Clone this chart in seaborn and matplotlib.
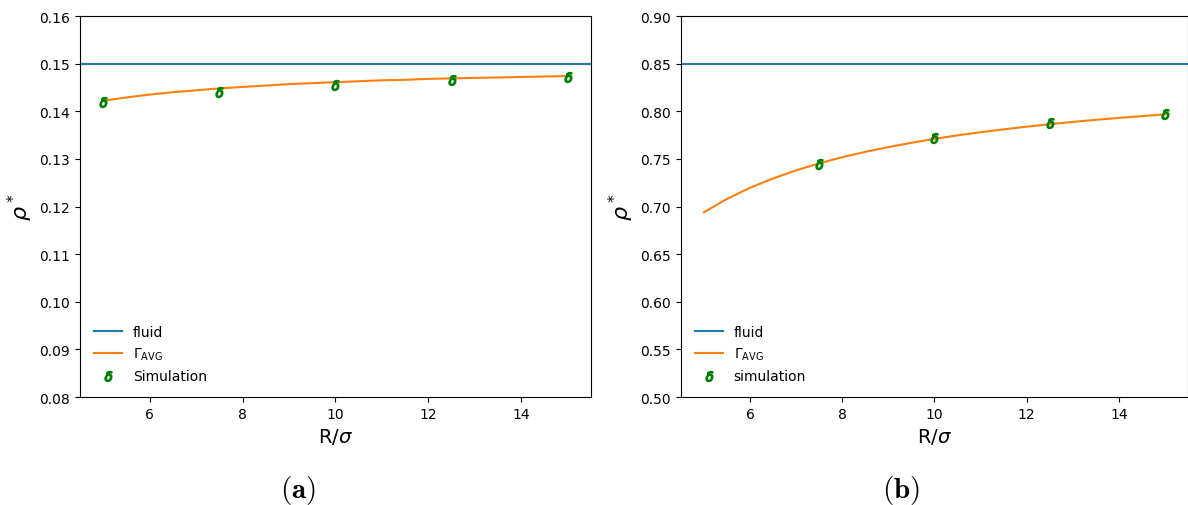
import numpy as np
import pandas as pd
import matplotlib
matplotlib.use("Agg")
import matplotlib.pyplot as plt
import seaborn as sns

# Radius values (R/sigma) for the theory curve and the simulation runs
r_curve = [5.0, 5.5, 6.0, 6.5, 7.0, 7.5, 8.0, 8.5, 9.0, 9.5, 10.0,
           10.5, 11.0, 11.5, 12.0, 12.5, 13.0, 13.5, 14.0, 14.5, 15.0]

# Panel (a): low density
fluid_a = 0.15
gamma_a = [0.1422, 0.1429, 0.1435, 0.1440, 0.1444, 0.1448, 0.1451, 0.1454,
           0.1457, 0.1459, 0.1461, 0.1463, 0.1465, 0.1466, 0.1468, 0.1469,
           0.1470, 0.1471, 0.1472, 0.1473, 0.1474]
sim_r_a = [5.0, 7.5, 10.0, 12.5, 15.0]
sim_a = [0.1419, 0.1440, 0.1456, 0.1466, 0.1472]

# Panel (b): high density
fluid_b = 0.85
gamma_b = [0.694, 0.708, 0.7197, 0.7295, 0.738, 0.7453, 0.7518, 0.7574,
           0.7624, 0.7669, 0.771, 0.7747, 0.778, 0.781, 0.7838, 0.7864,
           0.7888, 0.791, 0.793, 0.7949, 0.7967]
sim_r_b = [7.5, 10.0, 12.5, 15.0]
sim_b = [0.7447, 0.7720, 0.7877, 0.7975]

plt.rcParams["font.family"] = ["DejaVu Sans"]

fig = plt.figure(figsize=(11.88, 5.06), dpi=100)
ax_a = fig.add_axes([0.0673, 0.2134, 0.4302, 0.7530])
ax_b = fig.add_axes([0.5732, 0.2134, 0.4268, 0.7530])


def draw_panel(ax, fluid, gamma, sim_r, sim, sim_label, ylim, yticks, yfmt):
    ax.axhline(fluid, color="#1f77b4", lw=1.5, label="fluid")
    sns.lineplot(x=r_curve, y=gamma, ax=ax, color="#ff7f0e", lw=1.5,
                 label=r"$\Gamma_{\mathrm{AVG}}$")
    sns.scatterplot(x=sim_r, y=sim, ax=ax, marker=r"$\delta$", color="green",
                    edgecolor="green", s=50, linewidth=1.1, label=sim_label,
                    zorder=3)
    ax.set_xlim(4.5, 15.5)
    ax.set_ylim(*ylim)
    ax.set_yticks(yticks)
    ax.set_yticklabels([yfmt.format(v) for v in yticks])
    ax.set_xticks([6, 8, 10, 12, 14])
    ax.tick_params(labelsize=10)
    ax.set_xlabel(r"R/$\sigma$", fontsize=14)
    ax.set_ylabel(r"$\rho^*$", fontsize=16, labelpad=3)
    ax.legend(loc="lower left", frameon=False, fontsize=10, scatterpoints=1,
              borderaxespad=0.6)


draw_panel(ax_a, fluid_a, gamma_a, sim_r_a, sim_a, "Simulation",
           (0.08, 0.16), np.round(np.arange(0.08, 0.161, 0.01), 2), "{:.2f}")
draw_panel(ax_b, fluid_b, gamma_b, sim_r_b, sim_b, "simulation",
           (0.50, 0.90), np.round(np.arange(0.50, 0.901, 0.05), 2), "{:.2f}")

fig.text(0.251, 0.015, r"$\mathbf{(a)}$", fontsize=21, ha="center",
         math_fontfamily="cm")
fig.text(0.758, 0.015, r"$\mathbf{(b)}$", fontsize=21, ha="center",
         math_fontfamily="cm")

fig.savefig("out.png", dpi=100)
